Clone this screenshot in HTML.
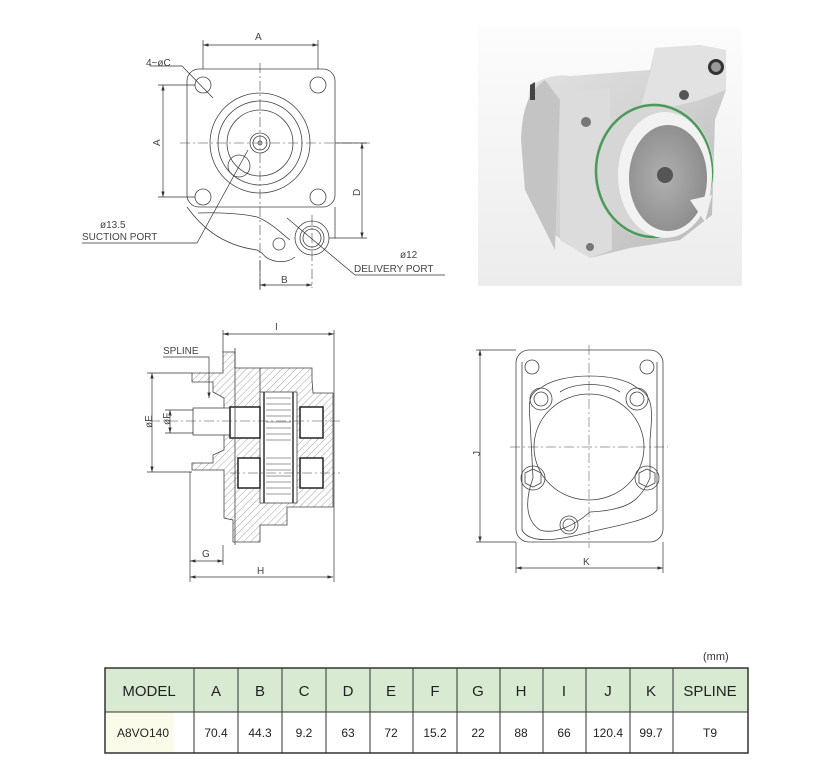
<!DOCTYPE html>
<html><head><meta charset="utf-8"><style>
html,body{margin:0;padding:0;background:#fff;width:822px;height:768px;overflow:hidden}
svg{display:block}
text{font-family:"Liberation Sans",sans-serif}
</style></head><body>
<svg width="822" height="768" viewBox="0 0 822 768" xmlns="http://www.w3.org/2000/svg">
<defs>
<marker id="ar" viewBox="0 0 10 6" refX="10" refY="3" markerWidth="8" markerHeight="5" orient="auto-start-reverse"><path d="M0,0 L10,3 L0,6 z" fill="#333"/></marker>
<pattern id="h" width="5" height="5" patternUnits="userSpaceOnUse" patternTransform="rotate(45)"><line x1="0" y1="0" x2="0" y2="5" stroke="#777" stroke-width="0.7"/></pattern>
<linearGradient id="met" x1="0" y1="0" x2="1" y2="1"><stop offset="0" stop-color="#e4e4e4"/><stop offset="0.5" stop-color="#d2d2d2"/><stop offset="1" stop-color="#b8b8b8"/></linearGradient>
<linearGradient id="bg" x1="0" y1="0" x2="0" y2="1"><stop offset="0" stop-color="#fcfcfc"/><stop offset="1" stop-color="#ececec"/></linearGradient>
<radialGradient id="in" cx="0.45" cy="0.5" r="0.6"><stop offset="0" stop-color="#b0b0b0"/><stop offset="1" stop-color="#8a8a8a"/></radialGradient>
</defs>
<g fill="none" stroke="#444" stroke-width="0.8">
<!-- TOP VIEW -->
<rect x="187" y="69" width="148" height="138" rx="12"/>
<circle cx="203" cy="85" r="8"/><circle cx="318" cy="85" r="8"/><circle cx="203" cy="197" r="8"/><circle cx="318" cy="197" r="8"/>
<circle cx="260" cy="143" r="50"/><circle cx="260" cy="143" r="42"/><circle cx="260" cy="143" r="33"/>
<circle cx="260" cy="143" r="10"/><circle cx="260" cy="143" r="7"/><circle cx="260" cy="143" r="2"/>
<circle cx="239" cy="166" r="11"/>
<path d="M187,207 C200,225 220,245 257,250 L262,253 C268,262 285,265 295,257"/>
<path d="M198,213 C220,212 245,214 257,217 C270,222 280,232 290,240"/>
<path d="M335,207 L335,238"/>
<circle cx="312" cy="238" r="17"/><circle cx="312" cy="238" r="12"/><circle cx="312" cy="238" r="9"/>
<circle cx="279" cy="244" r="6"/>
<g stroke-dasharray="10,3,2,3" stroke-width="0.6"><line x1="260" y1="63" x2="260" y2="290"/><line x1="180" y1="143" x2="370" y2="143"/><line x1="312" y1="215" x2="312" y2="288"/></g>
<g stroke="#333" stroke-width="0.7">
<line x1="203" y1="40" x2="203" y2="69"/><line x1="318" y1="40" x2="318" y2="69"/>
<line x1="203" y1="45" x2="318" y2="45" marker-start="url(#ar)" marker-end="url(#ar)"/>
<line x1="158" y1="85" x2="195" y2="85"/><line x1="158" y1="197" x2="195" y2="197"/>
<line x1="163" y1="85" x2="163" y2="197" marker-start="url(#ar)" marker-end="url(#ar)"/>
<line x1="335" y1="143" x2="367" y2="143"/><line x1="329" y1="238" x2="367" y2="238"/>
<line x1="362" y1="143" x2="362" y2="238" marker-start="url(#ar)" marker-end="url(#ar)"/>
<line x1="260" y1="260" x2="260" y2="290"/>
<line x1="260" y1="285" x2="312" y2="285" marker-start="url(#ar)" marker-end="url(#ar)"/>
<polyline points="150,66 182,66 213,98"/>
<polyline points="82,243 197,243 248,150"/>
<polyline points="287,218 355,275 445,275"/>
</g>
<!-- SECTION VIEW -->
<path fill="url(#h)" d="M223,352 L235,352 L235,368 L312,368 L312,380 L313,393 L333,393 L333,507 L287,507 L287,525 L260,525 L260,542 L233,542 L233,520 L224,518 L224,470 L192,470 L192,463 L213,463 L213,455 L224,450 L224,398 L213,392 L213,382 L192,382 L192,373 L223,373 Z"/>
<rect x="260" y="392" width="37" height="111" fill="#fff"/>
<rect x="193" y="408" width="37" height="27" fill="#fff"/>
<rect x="230" y="407" width="30" height="31" fill="#fff" stroke="#222" stroke-width="1.5"/>
<rect x="300" y="407" width="23" height="31" fill="#fff" stroke="#222" stroke-width="1.5"/>
<rect x="238" y="458" width="22" height="30" fill="#fff" stroke="#222" stroke-width="1.5"/>
<rect x="300" y="458" width="23" height="30" fill="#fff" stroke="#222" stroke-width="1.5"/>
<g stroke="#333" stroke-width="0.6">
<line x1="264" y1="392" x2="264" y2="503" stroke-width="1.5"/><line x1="293" y1="392" x2="293" y2="503" stroke-width="1.5"/>
<line x1="266" y1="398" x2="291" y2="398"/><line x1="266" y1="404" x2="291" y2="404"/><line x1="266" y1="410" x2="291" y2="410"/><line x1="266" y1="416" x2="291" y2="416"/><line x1="266" y1="422" x2="291" y2="422"/><line x1="266" y1="428" x2="291" y2="428"/><line x1="266" y1="434" x2="291" y2="434"/><line x1="266" y1="440" x2="291" y2="440"/>
<line x1="266" y1="458" x2="291" y2="458"/><line x1="266" y1="464" x2="291" y2="464"/><line x1="266" y1="470" x2="291" y2="470"/><line x1="266" y1="476" x2="291" y2="476"/><line x1="266" y1="482" x2="291" y2="482"/><line x1="266" y1="488" x2="291" y2="488"/><line x1="266" y1="494" x2="291" y2="494"/>
</g>
<line x1="235" y1="348" x2="235" y2="545"/><line x1="260" y1="368" x2="260" y2="392"/>
<g stroke-dasharray="10,3,2,3" stroke-width="0.5"><line x1="150" y1="421" x2="340" y2="421"/><line x1="230" y1="473" x2="340" y2="473"/></g>
<g stroke="#333" stroke-width="0.7">
<line x1="223" y1="330" x2="223" y2="352"/><line x1="334" y1="330" x2="334" y2="582"/>
<line x1="223" y1="334" x2="334" y2="334" marker-start="url(#ar)" marker-end="url(#ar)"/>
<line x1="147" y1="373" x2="192" y2="373"/><line x1="147" y1="472" x2="192" y2="472"/>
<line x1="152" y1="373" x2="152" y2="472" marker-start="url(#ar)" marker-end="url(#ar)"/>
<line x1="165" y1="410" x2="193" y2="410"/><line x1="165" y1="433" x2="193" y2="433"/>
<line x1="170" y1="410" x2="170" y2="433" marker-start="url(#ar)" marker-end="url(#ar)"/>
<line x1="190" y1="472" x2="190" y2="582"/><line x1="223" y1="545" x2="223" y2="565"/>
<line x1="190" y1="561" x2="223" y2="561" marker-start="url(#ar)" marker-end="url(#ar)"/>
<line x1="190" y1="577" x2="333" y2="577" marker-start="url(#ar)" marker-end="url(#ar)"/>
<polyline points="163,357 209,357 209,398" marker-end="url(#ar)"/>
</g>
<!-- J/K VIEW -->
<rect x="516" y="350" width="147" height="192" rx="13"/>
<path d="M522,362 L522,530 C530,545 560,540 590,532 C620,525 650,520 657,510 L657,362"/>
<circle cx="532" cy="367" r="7"/><circle cx="647" cy="367" r="7"/>
<ellipse cx="589" cy="447" rx="55" ry="53"/>
<path d="M541,388 C560,372 620,372 637,388 C655,395 652,415 650,440 L650,478 C640,500 630,510 590,512 C575,525 555,535 540,530 C525,520 525,500 533,478 L530,420 C528,400 530,392 541,388 Z"/>
<path d="M560,392 C575,382 605,382 620,392"/>
<circle cx="541" cy="399" r="11"/><circle cx="541" cy="399" r="7"/>
<circle cx="637" cy="399" r="11"/><circle cx="637" cy="399" r="7"/>
<circle cx="533" cy="478" r="12"/><polygon points="533,469 541,473 541,483 533,487 525,483 525,473"/>
<circle cx="647" cy="478" r="12"/><polygon points="647,469 655,473 655,483 647,487 639,483 639,473"/>
<circle cx="569" cy="525" r="9"/><circle cx="569" cy="525" r="6"/>
<g stroke-dasharray="10,3,2,3" stroke-width="0.5"><line x1="589" y1="345" x2="589" y2="548"/><line x1="510" y1="447" x2="668" y2="447"/></g>
<g stroke="#333" stroke-width="0.7">
<line x1="476" y1="350" x2="516" y2="350"/><line x1="476" y1="542" x2="516" y2="542"/>
<line x1="480" y1="350" x2="480" y2="542" marker-start="url(#ar)" marker-end="url(#ar)"/>
<line x1="516" y1="542" x2="516" y2="573"/><line x1="663" y1="542" x2="663" y2="573"/>
<line x1="516" y1="568" x2="663" y2="568" marker-start="url(#ar)" marker-end="url(#ar)"/>
</g>
</g>
<g fill="#444" font-size="10">
<text x="255" y="40">A</text>
<text x="146" y="66">4−øC</text>
<text x="152" y="146" transform="rotate(-90 156 142)">A</text>
<text x="352" y="196" transform="rotate(-90 356 192)">D</text>
<text x="281" y="283">B</text>
<text x="100" y="228">ø13.5</text>
<text x="82" y="240">SUCTION PORT</text>
<text x="400" y="258">ø12</text>
<text x="354" y="272">DELIVERY PORT</text>
<text x="275" y="330">I</text>
<text x="163" y="354">SPLINE</text>
<text x="144" y="428" transform="rotate(-90 148 424)">øE</text>
<text x="163" y="426" transform="rotate(-90 166 422)">øF</text>
<text x="202" y="557">G</text>
<text x="257" y="574">H</text>
<text x="472" y="456" transform="rotate(-90 476 452)">J</text>
<text x="583" y="565">K</text>
</g>
<!-- PHOTO -->
<rect x="478" y="28" width="264" height="258" fill="url(#bg)"/>
<path d="M530,88 C540,78 555,74 570,76 L650,70 L655,48 L700,45 L726,50 L726,90 L715,120 L712,215 L680,240 L630,248 L590,258 L580,252 L555,235 L530,200 L521,140 Z" fill="url(#met)"/>
<path d="M521,140 C522,110 528,92 545,80 L560,100 L555,250 L540,220 L525,190 Z" fill="#c4c4c4"/>
<path d="M651,70 L655,48 L700,45 L726,50 L726,90 L700,100 L660,110 L640,110 Z" fill="#e2e2e2"/>
<path d="M560,95 L610,88 L612,250 L590,258 L560,240 Z" fill="#dcdcdc"/>
<ellipse cx="654" cy="171" rx="60" ry="68" fill="#d6d6d6"/>
<ellipse cx="654" cy="171" rx="58" ry="66" fill="none" stroke="#4a9a5a" stroke-width="2.5"/>
<ellipse cx="665" cy="175" rx="47" ry="63" fill="#f2f2f2"/>
<ellipse cx="668" cy="178" rx="39" ry="53" fill="url(#in)"/>
<circle cx="665" cy="175" r="8" fill="#555"/>
<path d="M690,200 L712,195 L705,222 Z" fill="#f0f0f0"/>
<circle cx="716" cy="67" r="8" fill="#333"/><circle cx="716" cy="67" r="5" fill="#999"/>
<circle cx="684" cy="95" r="5" fill="#555"/>
<circle cx="586" cy="122" r="5" fill="#777"/>
<circle cx="590" cy="247" r="4" fill="#777"/>
<path d="M530,85 L535,82 L535,100 L530,100 Z" fill="#444"/>
<!-- TABLE -->
<text x="703" y="660" font-size="11" fill="#333">(mm)</text>
<rect x="105" y="668" width="643" height="44" fill="#d9ead3"/>
<rect x="105" y="712" width="69" height="41" fill="#fbfbe9"/>
<g stroke="#333" stroke-width="1" fill="none">
<rect x="105" y="668" width="643" height="85" stroke-width="1.5"/>
<line x1="105" y1="712" x2="748" y2="712"/>
<line x1="194" y1="668" x2="194" y2="753"/><line x1="238" y1="668" x2="238" y2="753"/><line x1="282" y1="668" x2="282" y2="753"/><line x1="326" y1="668" x2="326" y2="753"/><line x1="370" y1="668" x2="370" y2="753"/><line x1="413" y1="668" x2="413" y2="753"/><line x1="457" y1="668" x2="457" y2="753"/><line x1="500" y1="668" x2="500" y2="753"/><line x1="543" y1="668" x2="543" y2="753"/><line x1="586" y1="668" x2="586" y2="753"/><line x1="630" y1="668" x2="630" y2="753"/><line x1="673" y1="668" x2="673" y2="753"/>
</g>
<g font-size="15" fill="#222" text-anchor="middle">
<text x="149" y="696">MODEL</text><text x="216" y="696">A</text><text x="260" y="696">B</text><text x="304" y="696">C</text><text x="348" y="696">D</text><text x="391" y="696">E</text><text x="435" y="696">F</text><text x="478" y="696">G</text><text x="521" y="696">H</text><text x="564" y="696">I</text><text x="608" y="696">J</text><text x="651" y="696">K</text><text x="710" y="696">SPLINE</text>
</g>
<g font-size="12" fill="#222" text-anchor="middle">
<text x="143" y="737">A8VO140</text><text x="216" y="737">70.4</text><text x="260" y="737">44.3</text><text x="304" y="737">9.2</text><text x="348" y="737">63</text><text x="391" y="737">72</text><text x="435" y="737">15.2</text><text x="478" y="737">22</text><text x="521" y="737">88</text><text x="564" y="737">66</text><text x="608" y="737">120.4</text><text x="651" y="737">99.7</text><text x="710" y="737">T9</text>
</g>
</svg>
</body></html>
